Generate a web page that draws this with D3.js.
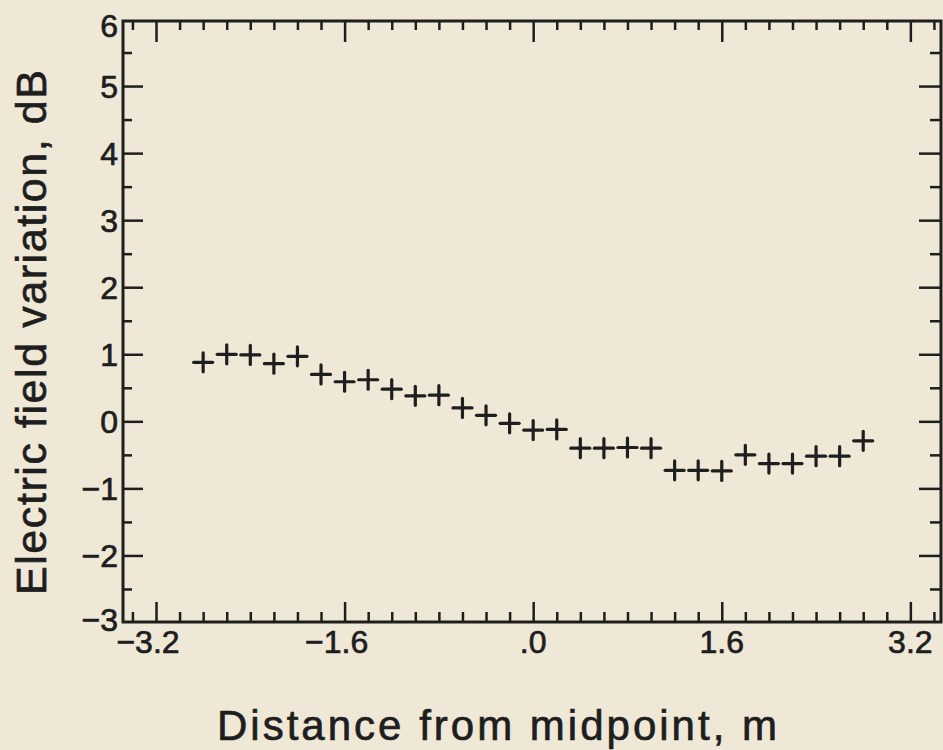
<!DOCTYPE html>
<html>
<head>
<meta charset="utf-8">
<script src="https://cdn.jsdelivr.net/npm/d3@7"></script>
<style>
  html, body { margin: 0; padding: 0; background: #efe8d6; }
  svg { display: block; }
  text { font-family: "Liberation Sans", Arial, Helvetica, sans-serif; fill: #1e1e1e; stroke: #1e1e1e; stroke-width: 0.7px; }
</style>
</head>
<body>
<svg id="chart" width="943" height="750"></svg>
<script>
// ---- data ----
const distances = [-2.8, -2.6, -2.4, -2.2, -2.0, -1.8, -1.6, -1.4, -1.2, -1.0,
                   -0.8, -0.6, -0.4, -0.2, 0.0, 0.2, 0.4, 0.6, 0.8, 1.0,
                   1.2, 1.4, 1.6, 1.8, 2.0, 2.2, 2.4, 2.6, 2.8];
const variation = [0.88, 1.00, 0.99, 0.86, 0.97, 0.70, 0.59, 0.62, 0.48, 0.38,
                   0.39, 0.20, 0.09, -0.03, -0.13, -0.12, -0.40, -0.40, -0.39, -0.40,
                   -0.73, -0.73, -0.74, -0.50, -0.63, -0.63, -0.52, -0.52, -0.29];
const xTickValues = [-3.2, -1.6, 0.0, 1.6, 3.2];
const xTickLabels = ["\u22123.2", "\u22121.6", ".0", "1.6", "3.2"];
const yTickValues = [6, 5, 4, 3, 2, 1, 0, -1, -2, -3];
const yTickLabels = ["6", "5", "4", "3", "2", "1", "0", "\u22121", "\u22122", "\u22123"];
const xTitle = "Distance from midpoint, m";
const yTitle = "Electric field variation, dB";

(function () {
const svg = d3.select("#chart");
const xDomain = [-3.48, 3.46];
const yDomain = [-3, 6];
const x = d3.scaleLinear().domain(xDomain).range([123, 941]);
const y = d3.scaleLinear().domain(yDomain).range([622.5, 19]);

const ink = "#1e1e1e";
const fLeft = x(xDomain[0]), fRight = x(xDomain[1]);
const fTop = 21, fBottom = 622;

const xMinor = d3.range(-34, 35, 2).map(v => v / 10).filter(v => !xTickValues.some(t => Math.abs(t - v) < 1e-9));
const yMinor = d3.range(-2.5, 6, 1);
const yMajorInner = yTickValues.filter(v => v > -3 && v < 6);

const g = svg.append("g");

g.append("rect")
  .attr("x", fLeft).attr("y", fTop)
  .attr("width", fRight - fLeft).attr("height", fBottom - fTop)
  .attr("fill", "none").attr("stroke", ink).attr("stroke-width", 3);

const bAx = g.append("g").attr("transform", `translate(0,${fBottom})`)
  .call(d3.axisBottom(x).tickValues(xTickValues).tickSize(-20).tickFormat(""));
const bMin = g.append("g").attr("transform", `translate(0,${fBottom})`)
  .call(d3.axisBottom(x).tickValues(xMinor).tickSize(-10).tickFormat(""));
const tAx = g.append("g").attr("transform", `translate(0,${fTop})`)
  .call(d3.axisTop(x).tickValues(xTickValues).tickSize(-21).tickFormat(""));
const tMin = g.append("g").attr("transform", `translate(0,${fTop})`)
  .call(d3.axisTop(x).tickValues(xMinor).tickSize(-9).tickFormat(""));
const lAx = g.append("g").attr("transform", `translate(${fLeft},0)`)
  .call(d3.axisLeft(y).tickValues(yMajorInner).tickSize(-20).tickFormat(""));
const lMin = g.append("g").attr("transform", `translate(${fLeft},0)`)
  .call(d3.axisLeft(y).tickValues(yMinor).tickSize(-9).tickFormat(""));
const rAx = g.append("g").attr("transform", `translate(${fRight},0)`)
  .call(d3.axisRight(y).tickValues(yMajorInner).tickSize(-22).tickFormat(""));
const rMin = g.append("g").attr("transform", `translate(${fRight},0)`)
  .call(d3.axisRight(y).tickValues(yMinor).tickSize(-11).tickFormat(""));

[bAx, bMin, tAx, tMin, lAx, lMin, rAx, rMin].forEach(a => {
  a.select(".domain").remove();
  a.selectAll(".tick line").attr("stroke", ink).attr("stroke-width", 2.5);
});

// x tick labels
g.append("g").selectAll("text").data(xTickValues).join("text")
  .attr("x", (d, i) => x(d) - (xTickLabels[i].startsWith("\u2212") ? 8 : 0))
  .attr("y", 653)
  .attr("text-anchor", "middle")
  .attr("font-size", 32)
  .text((d, i) => xTickLabels[i]);

// y tick labels
g.append("g").selectAll("text").data(yTickValues).join("text")
  .attr("x", 118)
  .attr("y", d => Math.min(Math.max(y(d), 25), 619))
  .attr("dy", "0.36em")
  .attr("text-anchor", "end")
  .attr("font-size", 32)
  .text((d, i) => yTickLabels[i]);

// data markers (+)
const half = 9.5;
const pts = g.append("g").selectAll("g").data(distances).join("g")
  .attr("transform", (d, i) => `translate(${x(d)},${y(variation[i])})`);
pts.append("line").attr("x1", -half).attr("x2", half).attr("y1", 0).attr("y2", 0)
  .attr("stroke", ink).attr("stroke-width", 3.2).attr("stroke-linecap", "round");
pts.append("line").attr("x1", 0).attr("x2", 0).attr("y1", -half).attr("y2", half)
  .attr("stroke", ink).attr("stroke-width", 3.2).attr("stroke-linecap", "round");

// axis titles
svg.append("text")
  .attr("x", 217).attr("y", 740)
  .attr("font-size", 42)
  .attr("textLength", 560).attr("lengthAdjust", "spacing")
  .text(xTitle);

svg.append("text")
  .attr("transform", "translate(46,595) rotate(-90)")
  .attr("font-size", 43)
  .attr("textLength", 525).attr("lengthAdjust", "spacing")
  .text(yTitle);
})();
</script>
</body>
</html>
